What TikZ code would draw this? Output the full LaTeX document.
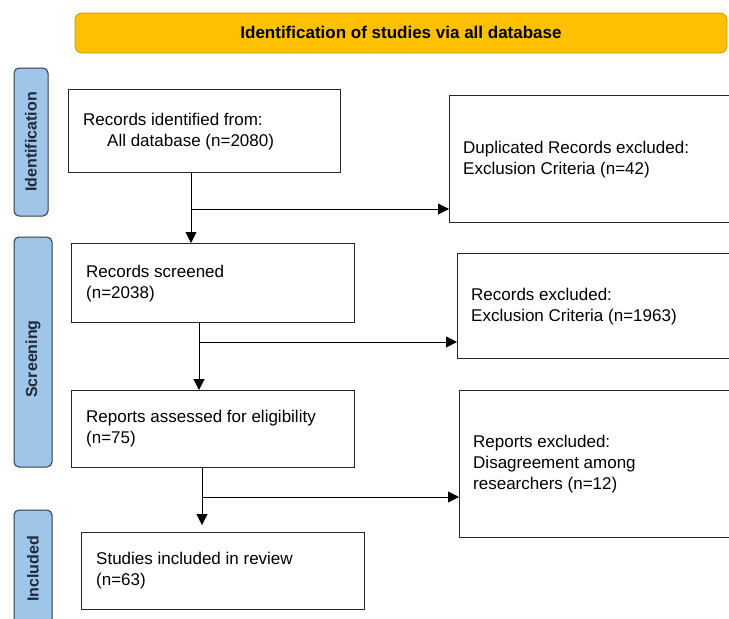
\documentclass[tikz,border=0pt]{standalone}
\usepackage{fontspec}
\setmainfont{Liberation Sans}
\usetikzlibrary{arrows.meta}
\definecolor{gold}{HTML}{FFC000}
\definecolor{goldline}{HTML}{C49A00}
\definecolor{sideblue}{HTML}{9FC5E8}
\definecolor{sideline}{HTML}{2F3B4A}
\definecolor{sidetext}{HTML}{1F2A3A}
\tikzset{
  box/.style={draw=black!85, line width=0.9pt, fill=white},
  side/.style={draw=sideline, line width=1pt, fill=sideblue, rounded corners=5pt},
  sidelabel/.style={rotate=90, font=\bfseries\fontsize{16}{18}\selectfont, text=sidetext},
  txt/.style={anchor=west, align=left, inner sep=0pt, font=\fontsize{17}{21}\selectfont},
  arr/.style={line width=1pt, -{Triangle[length=11pt,width=11pt]}},
  hold/.style={anchor=north west, inner sep=0pt},
}
\begin{document}
\begin{tikzpicture}[x=1pt,y=-1pt]
\clip (0,0) rectangle (729,619);
\fill[white] (0,0) rectangle (729,619);
% banner
\draw[draw=goldline, fill=gold, line width=0.8pt, rounded corners=7pt] (75,13) rectangle (727,53);
\node[font=\bfseries\fontsize{17}{19}\selectfont] (banner) at (401,32) {Identification of studies via all database};
% side bars
\draw[side] (14,68) rectangle (48,216);
\node[sidelabel] (sid) at (31,142) {Identification};
\draw[side] (14,237) rectangle (52,467);
\node[sidelabel] (ssc) at (33,359) {Screening};
\draw[side] (14,510) rectangle (52,640);
\node[sidelabel] (sin) at (33,569) {Included};
% boxes
\draw[box] (68,89) rectangle (340,172);
\node[hold, minimum width=272pt, minimum height=83pt] (A) at (68,89) {};
\node[txt] (At) at (83,132) {Records identified from:\\\hspace{24pt}All database (n=2080)};
\draw[box] (449,95) rectangle (740,222);
\node[hold, minimum width=291pt, minimum height=127pt] (B) at (449,95) {};
\node[txt] (Bt) at (463,159.5) {Duplicated Records excluded:\\Exclusion Criteria (n=42)};
\draw[box] (71,243) rectangle (354,322);
\node[hold, minimum width=283pt, minimum height=79pt] (C) at (71,243) {};
\node[txt] (Ct) at (86,283.5) {Records screened\\(n=2038)};
\draw[box] (457,253) rectangle (740,358);
\node[hold, minimum width=283pt, minimum height=105pt] (D) at (457,253) {};
\node[txt] (Dt) at (471,307) {Records excluded:\\Exclusion Criteria (n=1963)};
\draw[box] (71,390) rectangle (354,467);
\node[hold, minimum width=283pt, minimum height=77pt] (E) at (71,390) {};
\node[txt] (Et) at (86,429) {Reports assessed for eligibility\\(n=75)};
\draw[box] (459,390) rectangle (740,537);
\node[hold, minimum width=281pt, minimum height=147pt] (F) at (459,390) {};
\node[txt] (Ft) at (473,464) {Reports excluded:\\Disagreement among\\researchers (n=12)};
\draw[box] (81,532) rectangle (364,609);
\node[hold, minimum width=283pt, minimum height=77pt] (G) at (81,532) {};
\node[txt] (Gt) at (96,571) {Studies included in review\\(n=63)};
% connectors
\coordinate (j1) at (191,209);
\coordinate (j2) at (199,342);
\coordinate (j3) at (202,497);
\draw[arr] (A.south -| j1) -- (C.north -| j1);
\draw[arr] (j1) -- (j1 -| B.west);
\draw[arr] (C.south -| j2) -- (E.north -| j2);
\draw[arr] (j2) -- (j2 -| D.west);
\draw[arr] (E.south -| j3) -- ([yshift=7pt]G.north -| j3);
\draw[arr] (j3) -- (j3 -| F.west);
\end{tikzpicture}
\end{document}
